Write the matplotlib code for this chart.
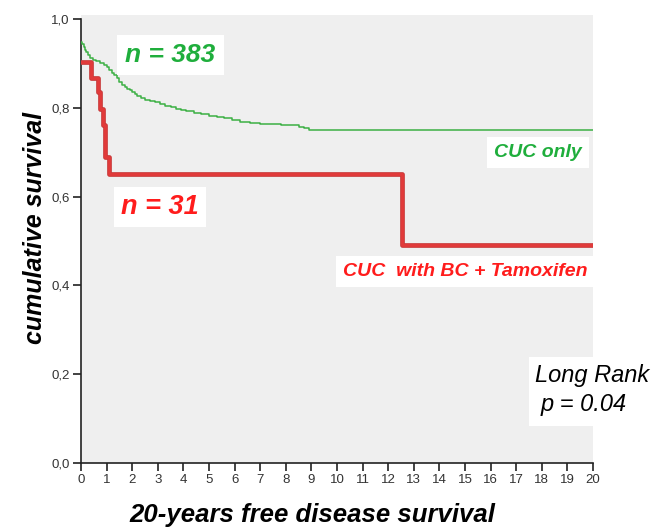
import matplotlib
matplotlib.use("Agg")
import matplotlib.pyplot as plt
from matplotlib.patches import Rectangle

plt.rcParams['font.family'] = ['Liberation Sans', 'DejaVu Sans']

# Data
red_times = [0, 0.38, 0.65, 0.74, 0.85, 0.95, 1.08, 12.55, 20]
red_surv = [0.903, 0.867, 0.836, 0.798, 0.761, 0.689, 0.652, 0.49, 0.49]

green_times = [0, 0.05, 0.1, 0.15, 0.2, 0.27, 0.35, 0.45, 0.6, 0.75,
               0.9, 1.0, 1.1, 1.2, 1.3, 1.4, 1.5, 1.6, 1.7, 1.8,
               1.9, 2.0, 2.1, 2.2, 2.35, 2.5, 2.7, 2.9, 3.1, 3.3,
               3.5, 3.7, 3.9, 4.1, 4.4, 4.7, 5.0, 5.3, 5.6, 5.9,
               6.2, 6.6, 7.0, 7.8, 8.5, 8.7, 8.9, 20]
green_surv = [0.948, 0.943, 0.937, 0.931, 0.925, 0.919, 0.912, 0.908, 0.905, 0.901,
              0.896, 0.891, 0.885, 0.879, 0.873, 0.866, 0.858, 0.852, 0.847, 0.843,
              0.839, 0.835, 0.831, 0.827, 0.822, 0.818, 0.815, 0.812, 0.809, 0.805,
              0.801, 0.798, 0.795, 0.792, 0.789, 0.786, 0.782, 0.779, 0.776, 0.773,
              0.769, 0.766, 0.763, 0.761, 0.757, 0.754, 0.751, 0.751]

x_ticks = list(range(0, 21))
y_ticks = [0.0, 0.2, 0.4, 0.6, 0.8, 1.0]
y_tick_labels = ['0,0', '0,2', '0,4', '0,6', '0,8', '1,0']

GREEN_LINE = '#3cb044'
GREEN_TEXT = '#1fae3c'
RED_LINE = '#e23a3a'
RED_TEXT = '#ff1c1c'

fig = plt.figure(figsize=(6.65, 5.3), dpi=100)
ax = fig.add_axes([81/665, 1 - 463/530, (593 - 81)/665, (463 - 15)/530])
ax.set_facecolor('#efefef')
ax.set_xlim(0, 20)
ax.set_ylim(0, 1.009)

ax.step(green_times, green_surv, where='post', color=GREEN_LINE, lw=1.1, zorder=3)
ax.step(red_times, red_surv, where='post', color='#c93a3a', lw=3.4, zorder=4)
ax.step(red_times, red_surv, where='post', color=RED_LINE, lw=2.0, zorder=5)

for s in ['top', 'right']:
    ax.spines[s].set_visible(False)
ax.spines['left'].set_bounds(0, 1)
ax.spines['bottom'].set_bounds(0, 20)
for s in ['left', 'bottom']:
    ax.spines[s].set_color('#222222')
    ax.spines[s].set_linewidth(1.2)

ax.set_xticks(x_ticks)
ax.set_xticklabels([str(t) for t in x_ticks])
ax.set_yticks(y_ticks)
ax.set_yticklabels(y_tick_labels)
ax.tick_params(axis='both', direction='out', length=6, width=1.2, color='#222222',
               labelsize=9.5, labelcolor='#333333', pad=2)

tf = dict(fontweight='bold', fontstyle='italic')
box = dict(facecolor='white', edgecolor='none', pad=5)

ax.text(1.72, 0.919, 'n = 383', color=GREEN_TEXT, fontsize=19, va='center', ha='left',
        bbox=dict(facecolor='white', edgecolor='none', pad=6), zorder=6, **tf)
ax.text(1.56, 0.577, 'n = 31', color=RED_TEXT, fontsize=19.5, va='center', ha='left',
        bbox=box, zorder=6, **tf)
ax.text(19.57, 0.70, 'CUC only', color=GREEN_TEXT, fontsize=14, va='center', ha='right',
        bbox=box, zorder=6, **tf)
ax.text(19.77, 0.432, 'CUC  with BC + Tamoxifen', color=RED_TEXT, fontsize=14,
        va='center', ha='right', bbox=box, zorder=6, **tf)

ax.add_patch(Rectangle((17.5, 0.083), 2.6, 0.156, facecolor='white', edgecolor='none',
                       zorder=2, clip_on=True))
ax.text(17.73, 0.198, 'Long Rank', color='black', fontsize=17, fontstyle='italic',
        va='center', ha='left', zorder=6, clip_on=False)
ax.text(17.97, 0.131, 'p = 0.04', color='black', fontsize=17, fontstyle='italic',
        va='center', ha='left', zorder=6, clip_on=False)

fig.text(35/665, 1 - 228/530, 'cumulative survival', rotation=90, fontsize=18,
         color='black', ha='center', va='center', **tf)
fig.text(312/665, 1 - 515/530, '20-years free disease survival', fontsize=18.5,
         color='black', ha='center', va='center', **tf)

fig.savefig('out.png', dpi=100)
